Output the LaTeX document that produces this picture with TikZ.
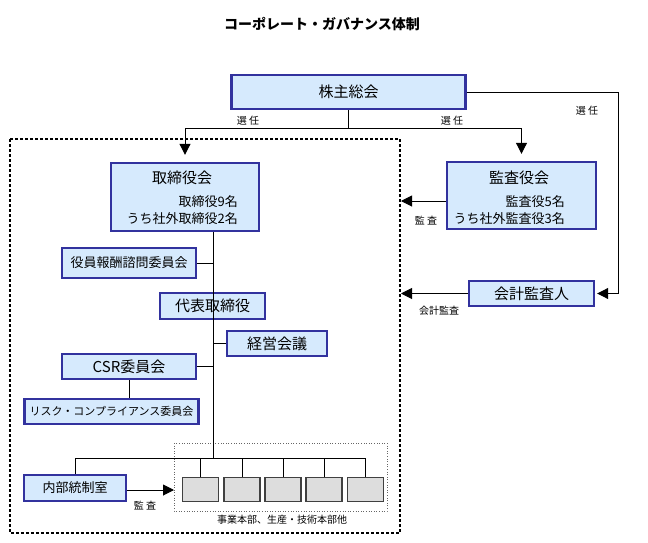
\documentclass[tikz,border=0pt]{standalone}
\usepackage{fontspec}
\setmainfont{Noto Sans CJK JP}
\usetikzlibrary{arrows.meta}

\tikzset{
  orgbox/.style={draw=cframe,fill=cfill,line width=2.4pt,inner sep=0pt,
    font=\fontsize{15}{17}\selectfont},
  unitbox/.style={draw=black!75,fill=cunit,line width=1.1pt,inner sep=0pt,
    minimum width=36pt,minimum height=24pt},
  link/.style={line width=1pt},
  arr/.style={line width=1pt,-{Triangle[length=11pt,width=11pt]}},
  smalltxt/.style={font=\fontsize{10}{12}\selectfont,inner sep=0pt},
  membtxt/.style={font=\fontsize{13}{15}\selectfont,inner sep=0pt,anchor=east}
}

\begin{document}
\begin{tikzpicture}[x=1pt,y=-1pt]
  \definecolor{cframe}{RGB}{50,50,158}
  \definecolor{cfill}{RGB}{214,234,253}
  \definecolor{cunit}{RGB}{221,221,221}
  \useasboundingbox (0,0) rectangle (648,543);
  \node[font=\bfseries\fontsize{14}{16}\selectfont] (title) at (322,24) {コーポレート・ガバナンス体制};
  \draw[line width=2.8pt,dash pattern=on 2.8pt off 2.2pt] (10,139) rectangle (400,533);
  \draw[black!60,line width=0.6pt,dotted] (174,443) rectangle (387,511);
  \node[orgbox,minimum width=234pt,minimum height=34pt] (soukai) at (348.5,92) {株主総会};
  \node[orgbox,minimum width=148pt,minimum height=68pt] (torikai) at (185,197) {};
  \node[orgbox,inner sep=0pt,draw=none,fill=none] (torikaiT) at (182,178) {取締役会};
  \node[membtxt] (torikaiA) at (238,202) {取締役9名};
  \node[membtxt] (torikaiB) at (238,219) {うち社外取締役2名};
  \node[orgbox,minimum width=149pt,minimum height=67pt] (kansa) at (521.5,195.5) {};
  \node[orgbox,inner sep=0pt,draw=none,fill=none] (kansaT) at (519,178) {監査役会};
  \node[membtxt] (kansaA) at (565,202) {監査役5名};
  \node[membtxt] (kansaB) at (565,219) {うち社外監査役3名};
  \node[orgbox,minimum width=125pt,minimum height=25pt] (kaikei) at (531.5,293.5) {会計監査人};
  \node[orgbox,minimum width=134pt,minimum height=30pt,font=\fontsize{13}{15}\selectfont] (houshu) at (129,263) {役員報酬諮問委員会};
  \node[orgbox,minimum width=105pt,minimum height=26pt] (daihyo) at (212.5,306) {代表取締役};
  \node[orgbox,minimum width=100pt,minimum height=25pt] (keiei) at (277,343.5) {経営会議};
  \node[orgbox,minimum width=134pt,minimum height=25pt] (csr) at (129,366.5) {CSR委員会};
  \node[orgbox,minimum width=174pt,minimum height=25pt,font=\fontsize{11}{13}\selectfont] (risk) at (111.5,411.5) {リスク・コンプライアンス委員会};
  \node[orgbox,minimum width=102pt,minimum height=26pt,font=\fontsize{13}{15}\selectfont] (naibu) at (75,488) {内部統制室};
  \foreach \i/\xx in {1/200.5,2/242,3/283,4/324,5/365.5}{%
    \node[unitbox] (unit\i) at (\xx,489.5) {};
  }
  \coordinate (sel) at (348.5,128);
  \coordinate (trunk) at (213,458);
  \coordinate (kansaEnd) at (401,201);
  \coordinate (kaikeiEnd) at (401,293.5);
  \coordinate (naibuEnd) at (174,490);
  \draw[link] (soukai.south) -- (sel);
  \draw[arr,shorten >=7pt] (sel) -| (torikai.north);
  \draw[arr,shorten >=7pt] (sel) -| (kansa.north);
  \draw[arr,shorten >=2pt] (soukai.east) -- ++(152,0) |- (kaikei.east);
  \draw[arr] (kansa.west |- kansaEnd) -- (kansaEnd);
  \draw[arr] (kaikei.west) -- (kaikeiEnd);
  \draw[arr] (naibu.east |- naibuEnd) -- (naibuEnd);
  \draw[link] (torikai.south -| trunk) -- (trunk);
  \draw[link] (houshu.east) -- (houshu.east -| trunk);
  \draw[link] (keiei.west) -- (keiei.west -| trunk);
  \draw[link] (csr.east) -- (csr.east -| trunk);
  \draw[link] (csr.south -| 129,0) -- (risk.north -| 129,0);
  \draw[link] (naibu.north |- trunk) -- (unit5.north |- trunk);
  \draw[link] (naibu.north |- trunk) -- (naibu.north);
  \foreach \i in {1,...,5}{%
    \draw[link] (unit\i.north |- trunk) -- (unit\i.north);
  }
  \node[smalltxt] (selA) at (248,121) {選\ 任};
  \node[smalltxt] (selB) at (452,121) {選\ 任};
  \node[smalltxt] (selC) at (587,111) {選\ 任};
  \node[smalltxt] (kansaLbl) at (426,221) {監\ 査};
  \node[smalltxt] (kaikeiLbl) at (439,311) {会計監査};
  \node[smalltxt] (naibuLbl) at (145,506) {監\ 査};
  \node[smalltxt] (unitLbl) at (282,520) {事業本部、生産・技術本部他};
\end{tikzpicture}
\end{document}
